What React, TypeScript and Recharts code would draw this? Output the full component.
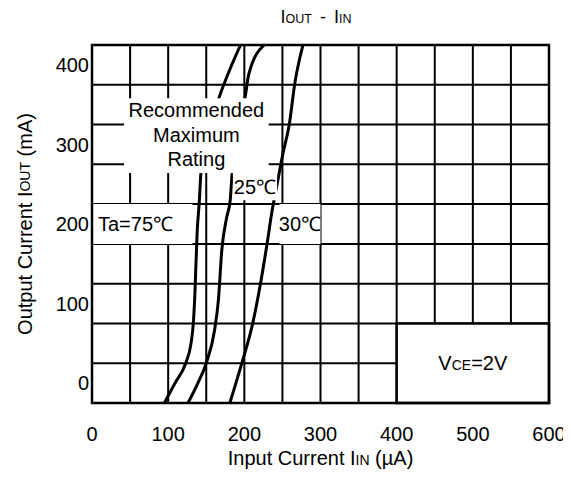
import { LineChart, Line, XAxis, YAxis, ReferenceLine, ReferenceArea } from "recharts";

const FONT = "'Liberation Sans', Arial, Helvetica, sans-serif";

// axis ticks and grid positions (µA / mA)
const xTicks = [0, 100, 200, 300, 400, 500, 600];
const yTicks = [0, 100, 200, 300, 400];
const xGridLines = [50, 100, 150, 200, 250, 300, 350, 400, 450, 500, 550];
const yGridLines = [25, 75, 125, 175, 225, 275, 325, 375];

// IOUT vs IIN curves
const curve75 = [
  { x: 95, y: -25 },
  { x: 109, y: 0 },
  { x: 123, y: 25 },
  { x: 130, y: 50 },
  { x: 133, y: 75 },
  { x: 135, y: 110 },
  { x: 138, y: 189 },
  { x: 141, y: 230 },
  { x: 143, y: 264 },
  { x: 168, y: 362 },
  { x: 175, y: 380 },
  { x: 195, y: 425 },
];

const curve25 = [
  { x: 126, y: -25 },
  { x: 139, y: 0 },
  { x: 150, y: 25 },
  { x: 161, y: 67 },
  { x: 166, y: 105 },
  { x: 170.5, y: 168 },
  { x: 177, y: 209 },
  { x: 181.5, y: 230 },
  { x: 184, y: 264 },
  { x: 201.5, y: 362 },
  { x: 206, y: 389 },
  { x: 226, y: 425 },
];

const curve30 = [
  { x: 181, y: -25 },
  { x: 197, y: 26 },
  { x: 210, y: 71 },
  { x: 221, y: 124 },
  { x: 230, y: 176 },
  { x: 236, y: 214 },
  { x: 243, y: 250 },
  { x: 251, y: 290 },
  { x: 259, y: 325 },
  { x: 266, y: 375 },
  { x: 277, y: 425 },
];

const ratingLines = ["Recommended", "Maximum", "Rating"];

const txt = { fill: "#000", fontFamily: FONT };

function RatingText(props: any) {
  const vb = props.viewBox;
  const cx = vb.x + vb.width / 2;
  return (
    <text textAnchor="middle" fontSize={20} {...txt}>
      {ratingLines.map((l, i) => (
        <tspan key={l} x={cx} y={vb.y + 19 + i * 24.5}>
          {l}
        </tspan>
      ))}
    </text>
  );
}

function centerText(label: string) {
  return (props: any) => {
    const vb = props.viewBox;
    return (
      <text
        x={vb.x + vb.width / 2}
        y={vb.y + vb.height / 2}
        textAnchor="middle"
        dominantBaseline="central"
        fontSize={20}
        {...txt}
      >
        {label}
      </text>
    );
  };
}

function leftText(label: string) {
  return (props: any) => {
    const vb = props.viewBox;
    return (
      <text
        x={vb.x + 6}
        y={vb.y + vb.height / 2}
        dominantBaseline="central"
        fontSize={20}
        {...txt}
      >
        {label}
      </text>
    );
  };
}

function VceText(props: any) {
  const vb = props.viewBox;
  return (
    <text
      x={vb.x + vb.width / 2}
      y={vb.y + vb.height / 2 + 7}
      textAnchor="middle"
      fontSize={20}
      {...txt}
    >
      V<tspan fontSize={14}>CE</tspan>=2V
    </text>
  );
}

function XTitle(props: any) {
  const vb = props.viewBox;
  return (
    <text x={vb.x + vb.width / 2} y={vb.y + 62} textAnchor="middle" fontSize={20} {...txt}>
      Input Current I<tspan fontSize={14}>IN</tspan> (µA)
    </text>
  );
}

function YTitle(props: any) {
  const vb = props.viewBox;
  const cx = vb.x + 17;
  const cy = vb.y + vb.height / 2;
  return (
    <text
      x={cx}
      y={cy}
      transform={`rotate(-90 ${cx} ${cy})`}
      textAnchor="middle"
      dominantBaseline="central"
      fontSize={20}
      {...txt}
    >
      Output Current I<tspan fontSize={14}>OUT</tspan> (mA)
    </text>
  );
}

export default function App() {
  return (
    <LineChart width={563} height={468} margin={{ top: 37, right: 22, bottom: 0, left: 0 }}>
      <text x={308} y={15} textAnchor="middle" fontSize={18} {...txt}>
        I<tspan fontSize={12.5}>OUT</tspan>
        <tspan dx={8}>-</tspan>
        <tspan dx={8}>I</tspan>
        <tspan fontSize={12.5}>IN</tspan>
      </text>
      <XAxis
        type="number"
        dataKey="x"
        domain={[0, 600]}
        ticks={xTicks}
        height={73}
        axisLine={false}
        tickLine={false}
        tickSize={0}
        tickMargin={24}
        tick={{ ...txt, fontSize: 20 }}
        label={XTitle}
      />
      <YAxis
        type="number"
        dataKey="y"
        domain={[-25, 425]}
        allowDataOverflow
        ticks={yTicks}
        width={84}
        axisLine={false}
        tickLine={false}
        tickSize={0}
        tickMargin={3}
        tick={{ ...txt, fontSize: 20 }}
        label={YTitle}
      />
      {xGridLines.map((v) => (
        <ReferenceLine key={"gx" + v} x={v} stroke="#000" strokeWidth={2} zIndex={-50} />
      ))}
      {yGridLines.map((v) => (
        <ReferenceLine key={"gy" + v} y={v} stroke="#000" strokeWidth={2} zIndex={-50} />
      ))}
      <Line data={curve75} dataKey="y" type="monotone" stroke="#000" strokeWidth={3} dot={false} activeDot={false} isAnimationActive={false} />
      <Line data={curve25} dataKey="y" type="monotone" stroke="#000" strokeWidth={3} dot={false} activeDot={false} isAnimationActive={false} />
      <Line data={curve30} dataKey="y" type="monotone" stroke="#000" strokeWidth={3} dot={false} activeDot={false} isAnimationActive={false} />
      <ReferenceArea x1={42} x2={232} y1={264} y2={358} fill="#fff" fillOpacity={1} stroke="none" zIndex={450} label={RatingText} />
      <ReferenceArea x1={185} x2={243} y1={230} y2={264} fill="#fff" fillOpacity={1} stroke="none" zIndex={450} label={centerText("25℃")} />
      <ReferenceArea x1={246} x2={300} y1={175} y2={225} fill="#fff" fillOpacity={1} stroke="none" zIndex={450} label={centerText("30℃")} />
      <ReferenceArea x1={0} x2={132} y1={175} y2={225} fill="#fff" fillOpacity={1} stroke="none" zIndex={450} label={leftText("Ta=75℃")} />
      <ReferenceArea x1={400} x2={600} y1={-25} y2={75} fill="#fff" fillOpacity={1} stroke="#000" strokeWidth={2.5} zIndex={460} label={VceText} />
      <ReferenceArea x1={0} x2={600} y1={-25} y2={425} fill="none" stroke="#000" strokeWidth={2.5} zIndex={470} />
    </LineChart>
  );
}
